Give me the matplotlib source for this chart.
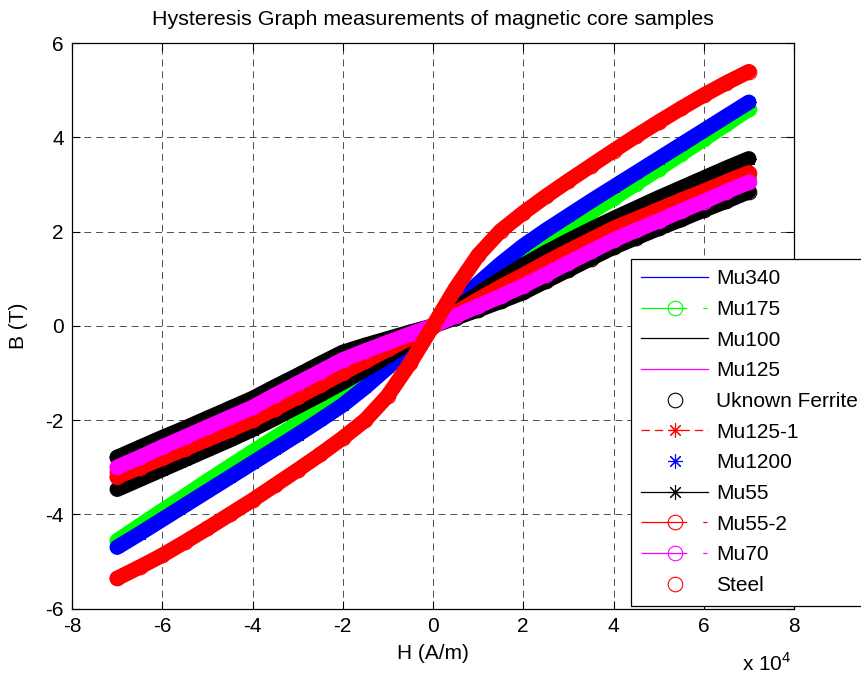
import numpy as np
import matplotlib
matplotlib.use("Agg")
import matplotlib.pyplot as plt
from matplotlib.ticker import FuncFormatter

plt.rcParams['font.family'] = ['Liberation Sans', 'DejaVu Sans']
plt.rcParams['mathtext.fontset'] = 'custom'
plt.rcParams['mathtext.rm'] = 'Liberation Sans'
plt.rcParams['lines.scale_dashes'] = False
plt.rcParams['axes.unicode_minus'] = False

# H values in units of 1e4 A/m
h_fine = [-7, -6.5, -6, -5.5, -5, -4.5, -4, -3.5, -3, -2.5, -2, -1.5, -1, -0.5, 0,
          0.5, 1, 1.5, 2, 2.5, 3, 3.5, 4, 4.5, 5, 5.5, 6, 6.5, 7]
h_coarse = [-7, -6, -5, -4, -3, -2, -1, 0, 1, 2, 3, 4, 5, 6, 7]

# B values (T)
b_mu340 = [-4.65, -4.05, -3.45, -2.85, -2.25, -1.63, -0.85, 0.00, 0.87, 1.66, 2.29, 2.90, 3.50, 4.10, 4.70]
b_mu175 = [-4.56, -4.24, -3.92, -3.61, -3.29, -2.98, -2.67, -2.37, -2.07, -1.77, -1.46, -1.11, -0.74, -0.37, 0.00,
           0.38, 0.76, 1.14, 1.50, 1.81, 2.11, 2.41, 2.71, 3.02, 3.33, 3.65, 3.96, 4.28, 4.60]
b_mu100 = [-3.30, -2.90, -2.50, -2.10, -1.65, -1.15, -0.60, 0.00, 0.62, 1.20, 1.72, 2.16, 2.58, 2.98, 3.38]
b_mu125 = [-2.95, -2.53, -2.11, -1.69, -1.20, -0.70, -0.34, 0.00, 0.41, 0.84, 1.32, 1.80, 2.21, 2.62, 3.02]
b_ferrite = [-2.79, -2.58, -2.37, -2.17, -1.96, -1.75, -1.54, -1.29, -1.05, -0.80, -0.56, -0.41, -0.27, -0.13, 0.00,
             0.17, 0.34, 0.52, 0.71, 0.95, 1.19, 1.43, 1.67, 1.87, 2.07, 2.26, 2.46, 2.65, 2.85]
b_mu125_1 = [-3.10, -2.91, -2.72, -2.53, -2.33, -2.13, -1.93, -1.70, -1.46, -1.22, -0.97, -0.73, -0.48, -0.24, 0.00,
             0.25, 0.50, 0.76, 1.01, 1.26, 1.51, 1.75, 1.98, 2.18, 2.38, 2.57, 2.77, 2.96, 3.15]
b_mu1200 = [-4.70, -4.41, -4.11, -3.81, -3.51, -3.21, -2.91, -2.61, -2.31, -2.00, -1.68, -1.30, -0.88, -0.44, 0.00,
            0.45, 0.90, 1.32, 1.70, 2.03, 2.34, 2.65, 2.95, 3.25, 3.55, 3.85, 4.15, 4.45, 4.75]
b_mu55 = [-3.47, -3.26, -3.05, -2.84, -2.63, -2.42, -2.20, -1.96, -1.71, -1.46, -1.20, -0.92, -0.64, -0.33, 0.00,
          0.35, 0.68, 0.99, 1.29, 1.56, 1.81, 2.05, 2.28, 2.50, 2.72, 2.93, 3.14, 3.35, 3.55]
b_mu55_2 = [-3.20, -3.01, -2.81, -2.61, -2.41, -2.21, -2.00, -1.76, -1.51, -1.26, -1.00, -0.75, -0.50, -0.25, 0.00,
            0.28, 0.56, 0.83, 1.08, 1.34, 1.59, 1.83, 2.07, 2.27, 2.47, 2.67, 2.86, 3.06, 3.25]
b_mu70 = [-3.00, -2.79, -2.57, -2.36, -2.15, -1.94, -1.73, -1.47, -1.22, -0.97, -0.72, -0.53, -0.35, -0.17, 0.00,
          0.21, 0.42, 0.63, 0.85, 1.09, 1.34, 1.58, 1.82, 2.03, 2.23, 2.44, 2.64, 2.85, 3.05]
b_steel = [-5.36, -5.12, -4.87, -4.59, -4.30, -4.00, -3.70, -3.38, -3.06, -2.73, -2.38, -2.00, -1.48, -0.78, 0.00,
           0.80, 1.50, 2.02, 2.40, 2.75, 3.08, 3.40, 3.72, 4.03, 4.33, 4.62, 4.90, 5.16, 5.40]

dashdot = (0, (33, 11.5, 3, 11.5))
dashed = (0, (6, 3.6))
star = (8, 2, 0)

# label, h, b, color, linestyle, marker, draw band
series = [
    ("Mu340", h_coarse, b_mu340, (0, 0, 1), '-', None, False),
    ("Mu175", h_fine, b_mu175, (0, 1, 0), dashdot, 'o', True),
    ("Mu100", h_coarse, b_mu100, 'k', '-', None, False),
    ("Mu125", h_coarse, b_mu125, (1, 0, 1), '-', None, False),
    ("Uknown Ferrite", h_fine, b_ferrite, 'k', 'none', 'o', True),
    ("Mu125-1", h_fine, b_mu125_1, (1, 0, 0), dashed, star, True),
    ("Mu1200", h_fine, b_mu1200, (0, 0, 1), 'none', star, True),
    ("Mu55", h_fine, b_mu55, 'k', '-', star, True),
    ("Mu55-2", h_fine, b_mu55_2, (1, 0, 0), dashdot, 'o', True),
    ("Mu70", h_fine, b_mu70, (1, 0, 1), dashdot, 'o', True),
    ("Steel", h_fine, b_steel, (1, 0, 0), 'none', 'o', True),
]

fig = plt.figure(figsize=(8.62, 6.79), dpi=100)
ax = fig.add_axes([72/862, 1 - 608.5/679, 722/862, 565.2/679])

for label, h, b, color, ls, marker, band in series:
    H = np.array(h) * 1e4
    if band:
        # dense measurement points show up as a solid band
        ax.plot(H, b, color=color, lw=11, solid_capstyle='round',
                solid_joinstyle='round', label='_nolegend_')
    ax.plot(H, b, color=color, linestyle=ls, lw=0.9, marker=marker,
            markersize=10.5, markerfacecolor='none', markeredgecolor=color,
            markeredgewidth=0.8, label=label)

ax.set_xlim(-8e4, 8e4)
ax.set_ylim(-6, 6)
ax.set_xticks(np.arange(-8e4, 8.1e4, 2e4))
ax.set_yticks(np.arange(-6, 6.1, 2))
ax.xaxis.set_major_formatter(FuncFormatter(lambda v, p: f"{v/1e4:g}"))
ax.tick_params(direction='in', top=True, right=True, length=6, width=0.8,
               labelsize=15, pad=6)
ax.set_axisbelow(True)
ax.grid(True, color='k', linestyle=(0, (5, 3.5)), linewidth=0.6, alpha=0.8)
for s in ax.spines.values():
    s.set_linewidth(0.9)

ax.set_title("Hysteresis Graph measurements of magnetic core samples",
             fontsize=15.4, pad=13)
ax.set_xlabel("H (A/m)", fontsize=15)
ax.set_ylabel("B (T)", fontsize=15)
ax.xaxis.set_label_coords(0.5, -0.063)
ax.yaxis.set_label_coords(-0.061, 0.5)
ax.text(0.997, -0.11, r"x 10$^{4}$", transform=ax.transAxes, ha='right',
        va='baseline', fontsize=15)

leg = fig.legend(*ax.get_legend_handles_labels(), loc='upper left',
                 bbox_to_anchor=(631/862, 1 - 259/679), borderaxespad=0,
                 fontsize=15, numpoints=1, handlelength=3.2, handletextpad=0.38,
                 labelspacing=0.56, borderpad=0.5, fancybox=False,
                 framealpha=1, edgecolor='k')
leg.get_frame().set_linewidth(0.9)

fig.savefig("out.png", dpi=100)
